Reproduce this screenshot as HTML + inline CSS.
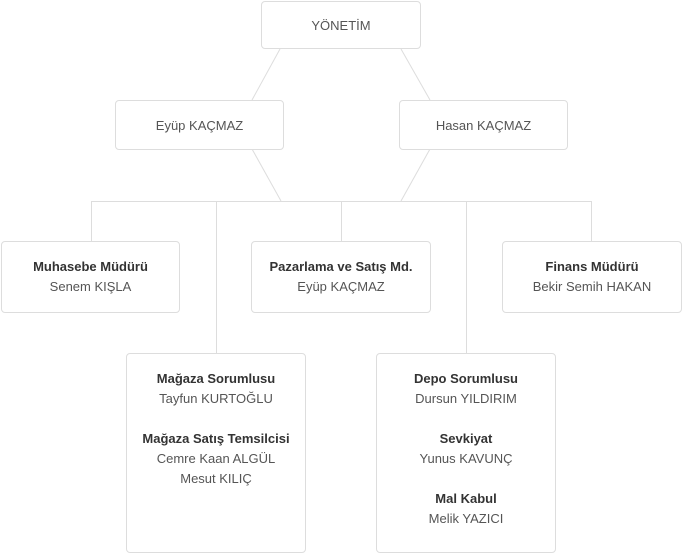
<!DOCTYPE html>
<html><head><meta charset="utf-8"><style>
body{margin:0;width:682px;height:553px;background:#fff;position:relative;font-family:"Liberation Sans",sans-serif;overflow:hidden}
.b{position:absolute;border:1px solid #ddd;border-radius:4px;box-sizing:border-box;background:#fff;text-align:center;font-size:13px;color:#555;line-height:20px}
.t{color:#333;font-weight:bold}
svg{position:absolute;left:0;top:0}
</style></head><body>
<svg width="682" height="553"><g stroke="#ddd" stroke-width="1" fill="none">
<line x1="280" y1="49" x2="252" y2="100"/><line x1="401" y1="49" x2="430" y2="100"/>
<line x1="252" y1="149" x2="281" y2="201"/><line x1="430" y1="149" x2="401" y2="201"/>
<line x1="91" y1="201.5" x2="591" y2="201.5"/>
<line x1="91.5" y1="201" x2="91.5" y2="241"/><line x1="216.5" y1="201" x2="216.5" y2="353"/>
<line x1="341.5" y1="201" x2="341.5" y2="241"/><line x1="466.5" y1="201" x2="466.5" y2="353"/>
<line x1="591.5" y1="201" x2="591.5" y2="241"/></g></svg>
<div class="b" style="left:261px;top:1px;width:160px;height:48px;padding-top:14px">YÖNETİM</div>
<div class="b" style="left:115px;top:100px;width:169px;height:50px;padding-top:15px">Eyüp KAÇMAZ</div>
<div class="b" style="left:399px;top:100px;width:169px;height:50px;padding-top:15px">Hasan KAÇMAZ</div>
<div class="b" style="left:1px;top:241px;width:179px;height:72px;padding-top:15px"><span class="t">Muhasebe Müdürü</span><br>Senem KIŞLA</div>
<div class="b" style="left:251px;top:241px;width:180px;height:72px;padding-top:15px"><span class="t">Pazarlama ve Satış Md.</span><br>Eyüp KAÇMAZ</div>
<div class="b" style="left:502px;top:241px;width:180px;height:72px;padding-top:15px"><span class="t">Finans Müdürü</span><br>Bekir Semih HAKAN</div>
<div class="b" style="left:126px;top:353px;width:180px;height:200px;padding-top:15px"><span class="t">Mağaza Sorumlusu</span><br>Tayfun KURTOĞLU<br><br><span class="t">Mağaza Satış Temsilcisi</span><br>Cemre Kaan ALGÜL<br>Mesut KILIÇ</div>
<div class="b" style="left:376px;top:353px;width:180px;height:200px;padding-top:15px"><span class="t">Depo Sorumlusu</span><br>Dursun YILDIRIM<br><br><span class="t">Sevkiyat</span><br>Yunus KAVUNÇ<br><br><span class="t">Mal Kabul</span><br>Melik YAZICI</div>
</body></html>
